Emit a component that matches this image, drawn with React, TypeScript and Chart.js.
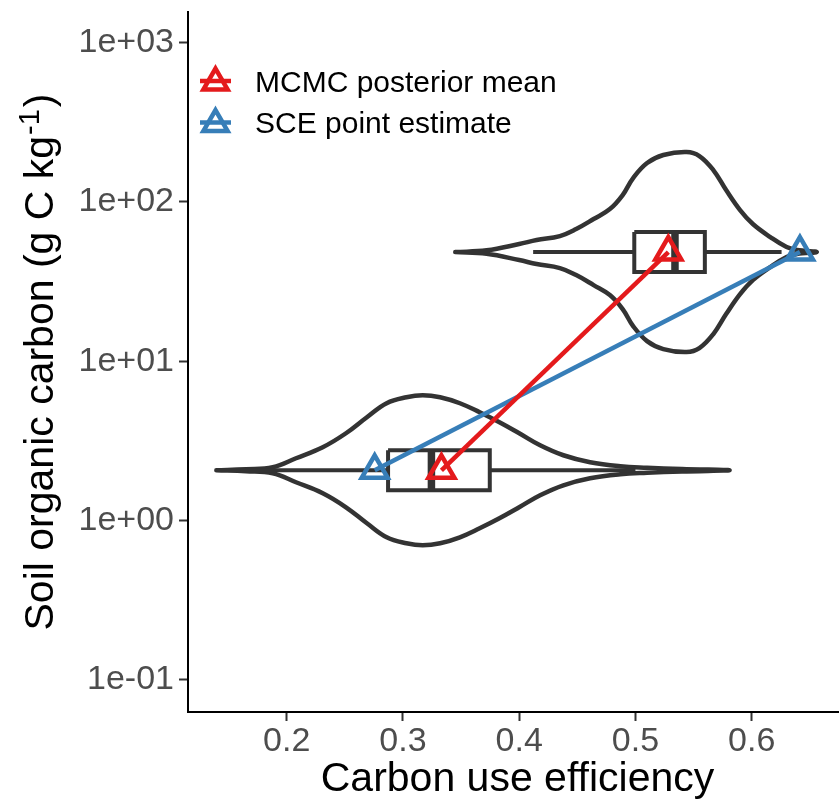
import React, { useEffect, useRef } from "react";
import { Chart, registerables } from "chart.js";

Chart.register(...registerables);

// ---------- data ----------
const xTickValues = [0.2, 0.3, 0.4, 0.5, 0.6];
const xTickLabels = ["0.2", "0.3", "0.4", "0.5", "0.6"];
const yTickValues = [0.1, 1, 10, 100, 1000];
const yTickLabels = ["1e-01", "1e+00", "1e+01", "1e+02", "1e+03"];

const xTitle = "Carbon use efficiency";
const yTitleMain = "Soil organic carbon (g C kg";
const yTitleSup = "-1";
const yTitleEnd = ")";

// SOC level of each group (violin centre)
const groupSoc = [2.07, 48.5];

// violin density profiles (relative density along CUE)
const violinLowCue = [0.1395, 0.165, 0.188, 0.208, 0.231, 0.251, 0.269, 0.286, 0.303, 0.317, 0.332, 0.349, 0.366, 0.383, 0.4, 0.418, 0.438, 0.461, 0.487, 0.51, 0.54, 0.581];
const violinLowDensity = [0, 0.01, 0.03, 0.12, 0.23, 0.37, 0.53, 0.67, 0.73, 0.75, 0.73, 0.67, 0.58, 0.48, 0.37, 0.25, 0.15, 0.08, 0.04, 0.025, 0.012, 0];
const violinHighCue = [0.345, 0.372, 0.4, 0.415, 0.435, 0.449, 0.464, 0.478, 0.489, 0.498, 0.51, 0.524, 0.544, 0.555, 0.567, 0.578, 0.59, 0.601, 0.616, 0.63, 0.639, 0.656];
const violinHighDensity = [0, 0.017, 0.08, 0.12, 0.16, 0.23, 0.33, 0.43, 0.57, 0.74, 0.89, 0.97, 1.0, 0.96, 0.82, 0.62, 0.42, 0.28, 0.15, 0.05, 0.02, 0];

// box stats: [whisker low, q1, median, q3, whisker high]
const boxLow = [0.16, 0.2872, 0.3245, 0.3747, 0.5];
const boxHigh = [0.412, 0.499, 0.534, 0.5597, 0.6257];

const seriesNames = ["MCMC posterior mean", "SCE point estimate"];
const mcmcCue = [0.3331, 0.5283];
const sceCue = [0.2757, 0.6415];
const seriesSoc = [2.07, 48.5];

// ---------- style ----------
const RED = "#E41A1C";
const BLUE = "#377EB8";
const DARK = "#333333";
const FONT = '"Liberation Sans", Arial, Helvetica, sans-serif';
const VIOLIN_DEC = 0.628; // max half-width in decades
const BOX_DEC = 0.1255; // box half-height in decades

function violinPoints(xs: number[], ds: number[], c: number) {
  const pts: { x: number; y: number }[] = [];
  for (let i = 0; i < xs.length; i++) pts.push({ x: xs[i], y: c * Math.pow(10, ds[i] * VIOLIN_DEC) });
  for (let i = xs.length - 2; i >= 0; i--) pts.push({ x: xs[i], y: c * Math.pow(10, -ds[i] * VIOLIN_DEC) });
  return pts;
}
function boxRect(b: number[], c: number) {
  const hi = c * Math.pow(10, BOX_DEC);
  const lo = c * Math.pow(10, -BOX_DEC);
  return [
    { x: b[1], y: hi },
    { x: b[3], y: hi },
    { x: b[3], y: lo },
    { x: b[1], y: lo },
    { x: b[1], y: hi },
  ];
}
function boxMedian(b: number[], c: number) {
  return [
    { x: b[2], y: c * Math.pow(10, BOX_DEC) },
    { x: b[2], y: c * Math.pow(10, -BOX_DEC) },
  ];
}
function boxWhiskers(b: number[], c: number) {
  return [
    { x: b[0], y: c },
    { x: b[1], y: c },
    { x: (b[1] + b[3]) / 2, y: null as any },
    { x: b[3], y: c },
    { x: b[4], y: c },
  ];
}

const shapeBase = {
  showLine: true,
  pointRadius: 0,
  pointHoverRadius: 0,
  borderColor: DARK,
};

function drawTriangle(ctx: CanvasRenderingContext2D, cx: number, cy: number, r: number) {
  ctx.beginPath();
  for (let k = 0; k < 3; k++) {
    const a = (k * 2 * Math.PI) / 3;
    const px = cx + Math.sin(a) * r;
    const py = cy - Math.cos(a) * r;
    if (k === 0) ctx.moveTo(px, py);
    else ctx.lineTo(px, py);
  }
  ctx.closePath();
  ctx.stroke();
}

const decorPlugin = {
  id: "decor",
  afterDraw(chart: any) {
    const ctx: CanvasRenderingContext2D = chart.ctx;
    const { left, right, top, bottom } = chart.chartArea;
    ctx.save();
    // x title
    ctx.fillStyle = "#000";
    ctx.font = `41px ${FONT}`;
    ctx.textAlign = "center";
    ctx.textBaseline = "alphabetic";
    ctx.fillText(xTitle, (left + right) / 2 + 4, 791);

    // y title with superscript
    ctx.save();
    ctx.translate(53, (top + bottom) / 2);
    ctx.rotate(-Math.PI / 2);
    ctx.textAlign = "left";
    ctx.font = `41px ${FONT}`;
    const w1 = ctx.measureText(yTitleMain).width;
    const w3 = ctx.measureText(yTitleEnd).width;
    ctx.font = `29px ${FONT}`;
    const w2 = ctx.measureText(yTitleSup).width;
    const total = w1 + w2 + w3 + 3;
    const x0 = -total / 2;
    ctx.font = `41px ${FONT}`;
    ctx.fillText(yTitleMain, x0, 0);
    ctx.font = `29px ${FONT}`;
    ctx.fillText(yTitleSup, x0 + w1 + 1, -14);
    ctx.font = `41px ${FONT}`;
    ctx.fillText(yTitleEnd, x0 + w1 + w2 + 3, 0);
    ctx.restore();

    // legend
    const colors = [RED, BLUE];
    for (let i = 0; i < seriesNames.length; i++) {
      const cy = 81 + i * 41.5;
      ctx.strokeStyle = colors[i];
      ctx.lineWidth = 4.5;
      ctx.lineJoin = "miter";
      ctx.beginPath();
      ctx.moveTo(200, cy);
      ctx.lineTo(231, cy);
      ctx.stroke();
      drawTriangle(ctx, 215.5, cy + 1.5, 14);
      ctx.fillStyle = "#000";
      ctx.font = `30px ${FONT}`;
      ctx.textAlign = "left";
      ctx.textBaseline = "alphabetic";
      ctx.fillText(seriesNames[i], 255, cy + 10.7);
    }
    ctx.restore();
  },
};

export default function App() {
  const ref = useRef<HTMLCanvasElement | null>(null);
  useEffect(() => {
    if (!ref.current) return;
    const datasets: any[] = [
      {
        label: seriesNames[0],
        data: mcmcCue.map((x, i) => ({ x, y: seriesSoc[i] })),
        showLine: true,
        borderColor: RED,
        borderWidth: 4.5,
        pointStyle: "triangle",
        pointRadius: 15,
        pointHoverRadius: 15,
        pointBorderWidth: 4.5,
        pointBorderColor: RED,
        pointBackgroundColor: "rgba(0,0,0,0)",
        order: 0,
      },
      {
        label: seriesNames[1],
        data: sceCue.map((x, i) => ({ x, y: seriesSoc[i] })),
        showLine: true,
        borderColor: BLUE,
        borderWidth: 4.5,
        pointStyle: "triangle",
        pointRadius: 15,
        pointHoverRadius: 15,
        pointBorderWidth: 4.5,
        pointBorderColor: BLUE,
        pointBackgroundColor: "rgba(0,0,0,0)",
        order: 1,
      },
    ];
    const boxes = [boxLow, boxHigh];
    boxes.forEach((b, g) => {
      const c = groupSoc[g];
      datasets.push({ ...shapeBase, label: "median" + g, data: boxMedian(b, c), borderWidth: 7.5, borderCapStyle: "butt", order: 2 });
      datasets.push({
        ...shapeBase,
        label: "box" + g,
        data: boxRect(b, c),
        borderWidth: 4,
        borderJoinStyle: "miter",
        fill: "shape",
        backgroundColor: "#FFFFFF",
        order: 3,
      });
      datasets.push({ ...shapeBase, label: "whisker" + g, data: boxWhiskers(b, c), borderWidth: 4, spanGaps: false, order: 3 });
    });
    const violins = [
      [violinLowCue, violinLowDensity],
      [violinHighCue, violinHighDensity],
    ];
    violins.forEach((v, g) => {
      datasets.push({
        ...shapeBase,
        label: "violin" + g,
        data: violinPoints(v[0], v[1], groupSoc[g]),
        borderWidth: 4.5,
        tension: 0.4,
        fill: "shape",
        backgroundColor: "#FFFFFF",
        borderJoinStyle: "round",
        borderCapStyle: "round",
        order: 5,
      });
    });

    const chart = new Chart(ref.current, {
      type: "scatter",
      data: { datasets },
      options: {
        responsive: false,
        animation: false,
        devicePixelRatio: 1,
        layout: { autoPadding: false, padding: { top: 12, left: 0, right: 0, bottom: 0 } },
        plugins: { legend: { display: false }, tooltip: { enabled: false } },
        events: [],
        scales: {
          x: {
            type: "linear",
            min: 0.1151,
            max: 0.6751,
            afterFit: (s: any) => {
              s.height = 88;
              s.paddingLeft = 0;
              s.paddingRight = 0;
            },
            afterBuildTicks: (s: any) => {
              s.ticks = xTickValues.map((v) => ({ value: v }));
            },
            ticks: {
              callback: (_v: any, i: number) => xTickLabels[i],
              font: { family: FONT, size: 34 },
              color: "#4D4D4D",
              padding: 0,
              autoSkip: false,
              maxRotation: 0,
            },
            grid: { drawOnChartArea: false, drawTicks: true, tickLength: 9, tickColor: DARK, tickWidth: 2 },
            border: { display: true, color: "#000", width: 2 },
          },
          y: {
            type: "logarithmic",
            min: Math.pow(10, -1.2016),
            max: Math.pow(10, 3.1927),
            afterFit: (s: any) => {
              s.width = 188;
              s.paddingTop = 0;
              s.paddingBottom = 0;
            },
            afterBuildTicks: (s: any) => {
              s.ticks = yTickValues.map((v) => ({ value: v }));
            },
            ticks: {
              callback: (_v: any, i: number) => yTickLabels[i],
              font: { family: FONT, size: 34 },
              color: "#4D4D4D",
              padding: 5,
              autoSkip: false,
            },
            grid: { drawOnChartArea: false, drawTicks: true, tickLength: 9, tickColor: DARK, tickWidth: 2 },
            border: { display: true, color: "#000", width: 2 },
          },
        },
      } as any,
      plugins: [decorPlugin],
    });
    return () => chart.destroy();
  }, []);
  return (
    <div style={{ position: "absolute", left: 0, top: 0, width: 839, height: 800, background: "#fff" }}>
      <canvas ref={ref} width={839} height={800} style={{ width: 839, height: 800, display: "block" }} />
    </div>
  );
}
